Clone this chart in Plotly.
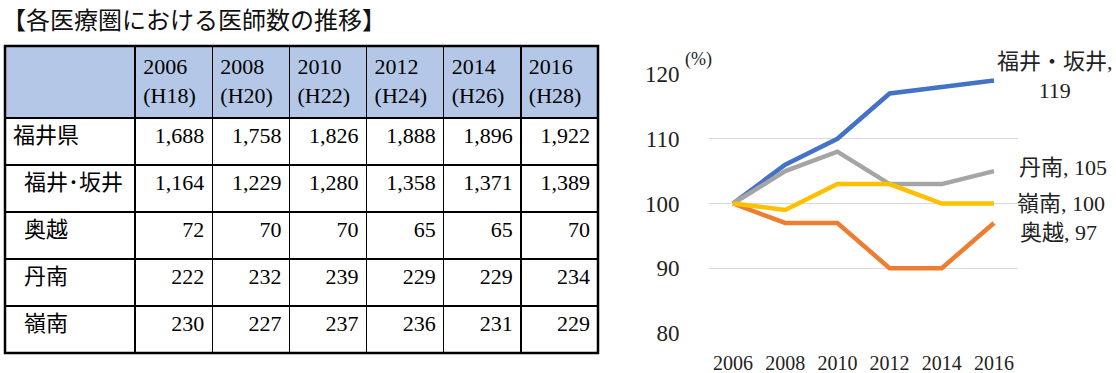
import plotly.graph_objects as go

W, H = 1116, 373

# ---- data ----
title_text = "【各医療圏における医師数の推移】"
years = ["2006", "2008", "2010", "2012", "2014", "2016"]
heisei = ["H18", "H20", "H22", "H24", "H26", "H28"]
table_regions = ["福井県", "福井･坂井", "奥越", "丹南", "嶺南"]
indent = [False, True, True, True, True]

fukui_ken = [1688, 1758, 1826, 1888, 1896, 1922]
fukui_sakai = [1164, 1229, 1280, 1358, 1371, 1389]
okuetsu = [72, 70, 70, 65, 65, 70]
tannan = [222, 232, 239, 229, 229, 234]
reinan = [230, 227, 237, 236, 231, 229]
table_rows = [fukui_ken, fukui_sakai, okuetsu, tannan, reinan]

# index (2006 = 100)
idx_fukui_sakai = [100, 106, 110, 117, 118, 119]
idx_okuetsu = [100, 97, 97, 90, 90, 97]
idx_tannan = [100, 105, 108, 103, 103, 105]
idx_reinan = [100, 99, 103, 103, 100, 100]

series_names = ["福井・坂井", "奥越", "丹南", "嶺南"]
series_values = [idx_fukui_sakai, idx_okuetsu, idx_tannan, idx_reinan]
series_colors = ["#4472C4", "#ED7D31", "#A5A5A5", "#FFC000"]

SERIF = "Liberation Serif, Noto Sans CJK JP, serif"

def px(x):
    return x / W

def py(y):
    return 1 - y / H

fig = go.Figure()

# ---- table ----
header_vals = [""] + [f"{y}<br>({h})" for y, h in zip(years, heisei)]
col0 = [("\u2002" if ind else "") + r for r, ind in zip(table_regions, indent)]
cols = [col0] + [[f"{row[j]:,}" for row in table_rows] for j in range(len(years))]

tbl_left, tbl_right, tbl_top = 5, 598, 46
hdr_h, row_h = 72, 47
tbl_bottom = tbl_top + hdr_h + row_h * len(table_regions)

fig.add_trace(go.Table(
    domain=dict(x=[px(tbl_left), px(tbl_right)], y=[py(tbl_bottom + 4), py(tbl_top)]),
    columnwidth=[130] + [77] * len(years),
    header=dict(
        values=header_vals,
        fill_color="#B4C7E7",
        line=dict(color="black", width=1.5),
        align="left",
        height=hdr_h,
        font=dict(family=SERIF, size=22, color="black"),
    ),
    cells=dict(
        values=cols,
        fill_color="white",
        line=dict(color="black", width=1.5),
        align=["left"] + ["right"] * len(years),
        height=row_h,
        font=dict(family=SERIF, size=22, color="black"),
    ),
))

# ---- line chart ----
for name, vals, col in zip(series_names, series_values, series_colors):
    fig.add_trace(go.Scatter(
        x=years, y=vals, name=name, mode="lines",
        line=dict(color=col, width=4.5),
        xaxis="x", yaxis="y", showlegend=False, cliponaxis=False,
    ))

label_shift = {
    "福井・坂井": (1, 4),
    "奥越": (24, -10),
    "丹南": (23, 4),
    "嶺南": (21, 0),
}
for name, vals in zip(series_names, series_values):
    xs, ys = label_shift[name]
    text = f"{name},<br>{vals[-1]}" if name == "福井・坂井" else f"{name}, {vals[-1]}"
    fig.add_annotation(
        x=len(years) - 1, y=vals[-1], xref="x", yref="y",
        text=text, showarrow=False, xanchor="left", yanchor="middle",
        align="center", xshift=xs, yshift=ys,
        font=dict(family=SERIF, size=22, color="#222222"),
    )

fig.add_annotation(
    x=px(683), y=py(59), xref="paper", yref="paper", text="(%)",
    showarrow=False, xanchor="left", yanchor="middle",
    font=dict(family=SERIF, size=18, color="#222222"),
)

fig.add_annotation(
    x=0, y=py(18), xref="paper", yref="paper", text=title_text,
    showarrow=False, xanchor="left", yanchor="middle",
    font=dict(family="Noto Sans CJK JP", size=24, color="#111111"),
)

# outer border of table
fig.add_shape(type="rect", xref="paper", yref="paper",
              x0=px(tbl_left), x1=px(tbl_right), y0=py(tbl_bottom), y1=py(tbl_top),
              line=dict(color="black", width=2.5), layer="above")

fig.update_layout(
    width=W, height=H,
    margin=dict(l=0, r=0, t=0, b=0, autoexpand=False),
    paper_bgcolor="white", plot_bgcolor="white",
    xaxis=dict(
        domain=[px(709), px(1018)], type="category", range=[-0.46, 5.46],
        showgrid=False, zeroline=False, showline=False, automargin=False,
        ticks="outside", ticklen=12, tickcolor="rgba(0,0,0,0)",
        tickfont=dict(family=SERIF, size=20, color="#222222"),
    ),
    yaxis=dict(
        domain=[py(333), py(74)], range=[80, 120], dtick=10,
        showgrid=True, gridcolor="#D9D9D9", gridwidth=1.3,
        zeroline=False, showline=False, automargin=False,
        ticks="outside", ticklen=24, tickcolor="rgba(0,0,0,0)",
        tickfont=dict(family=SERIF, size=23, color="#222222"),
    ),
)

fig.write_html("out.html")
